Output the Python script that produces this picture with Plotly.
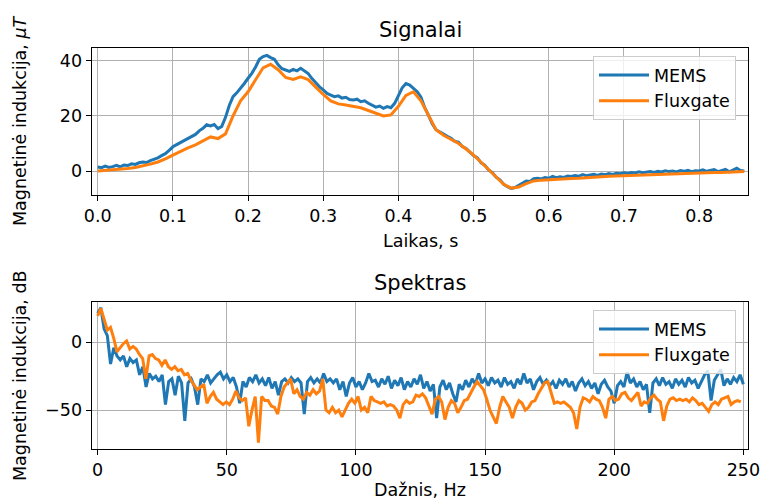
import numpy as np
import plotly.graph_objects as go

# ---------------- data ----------------
# time-domain signals (s, uT)
fluxgate_t = [
    0.0, 0.2, 0.4, 0.6, 0.9, 1.3, 1.8, 2.5, 3.3, 4.4,
    5.8, 7.2, 8.4, 9.5, 11.0, 12.4, 11.8, 13.5, 20.0, 25.5,
    28.8, 33.0, 37.5, 38.8, 36.8, 34.0, 33.3, 34.2, 33.2, 30.5,
    27.8, 25.5, 24.4, 24.0, 23.6, 23.0, 22.0, 21.0, 20.0, 20.4,
    23.5, 27.5, 28.8, 25.5, 20.0, 15.0, 13.0, 11.5, 10.0, 8.0,
    5.8, 3.2, 0.6, -2.0, -4.8, -6.2, -5.8, -4.6, -3.6, -3.3,
    -3.1, -3.0, -2.8, -2.7, -2.6, -2.5, -2.3, -2.1, -1.9, -1.8,
    -1.6, -1.4, -1.3, -1.2, -1.1, -1.0, -0.9, -0.9, -0.8, -0.7,
    -0.7, -0.6, -0.5, -0.5, -0.4, -0.3, -0.2,
]
mems_t = [
    1.5, 1.2, 1.8, 1.3, 1.6, 2.1, 1.5, 2.2, 2.0, 2.6,
    2.4, 3.0, 3.3, 3.1, 3.8, 4.3, 4.8, 5.6, 6.3, 7.5,
    8.8, 9.6, 10.3, 11.2, 11.8, 12.6, 13.3, 14.6, 15.5, 16.8,
    16.4, 16.9, 15.4, 16.2, 19.5, 23.8, 27.0, 28.4, 30.0, 31.8,
    33.7, 35.5, 37.8, 40.6, 41.6, 42.0, 41.2, 40.6, 38.6, 37.2,
    36.7, 36.2, 36.9, 36.4, 37.3, 36.5, 35.4, 33.6, 32.0, 30.6,
    29.5, 28.2, 27.6, 27.0, 27.3, 26.5, 26.8, 26.0, 25.8, 26.1,
    25.2, 25.5, 24.6, 24.0, 23.2, 23.6, 22.8, 23.4, 23.0, 24.6,
    27.4, 30.2, 31.8, 31.2, 30.0, 28.8, 26.8, 23.0, 20.2, 17.2,
    15.0, 14.3, 13.4, 12.6, 11.9, 10.8, 10.4, 8.9, 8.2, 6.9,
    5.6, 4.8, 3.0, 2.1, 0.4, -0.6, -2.2, -3.2, -4.8, -5.7,
    -6.3, -6.0, -5.2, -4.5, -3.6, -3.8, -2.8, -2.6, -2.9, -2.4,
    -2.6, -1.9, -2.4, -2.1, -2.3, -1.8, -2.0, -1.6, -1.9, -1.3,
    -1.7, -1.4, -1.2, -1.6, -1.1, -1.3, -0.9, -1.2, -0.8, -1.0,
    -0.6, -0.9, -0.5, -0.7, -0.3, -0.6, -0.4, -0.2, -0.5, -0.1,
    -0.3, 0.1, -0.2, 0.0, -0.3, 0.2, -0.1, 0.3, -0.2, 0.1,
    0.0, 0.4, -0.1, 0.3, 0.5, -0.2, 0.2, 0.6, -0.3, 0.4,
    1.0, 0.2, 0.0,
]
t_end = 0.86

# spectra (Hz, dB)
mems_db = [
    21.4, 25.5, 10, 5, -16, -4, -10, -13, -10, -18,
    -12, -15, -13, -24, -18, -33, -23, -27, -25, -29,
    -24, -46, -29, -27, -39, -25, -30, -58, -30, -27,
    -33, -46, -27, -29, -24, -30, -27, -24, -22, -27,
    -24, -29, -26, -33, -45, -29, -33, -26, -29, -24,
    -30, -27, -32, -26, -34, -29, -39, -29, -27, -30,
    -26, -29, -27, -30, -53, -29, -26, -30, -27, -30,
    -23, -29, -27, -30, -27, -35, -29, -40, -30, -26,
    -33, -29, -35, -30, -23, -29, -28, -33, -27, -31,
    -25, -34, -28, -32, -26, -35, -29, -33, -27, -31,
    -24, -34, -29, -36, -31, -56, -33, -28, -35, -30,
    -38, -44, -31, -35, -28, -33, -27, -31, -23, -30,
    -27, -32, -26, -30, -28, -33, -26, -31, -29, -34,
    -27, -31, -23, -30, -27, -35, -29, -26, -31, -28,
    -32, -29, -34, -28, -31, -27, -33, -29, -36, -30,
    -27, -32, -29, -34, -30, -38, -31, -28, -33, -36,
    -45, -32, -29, -33, -22, -30, -27, -33, -29, -35,
    -31, -52, -30, -27, -32, -26, -31, -29, -34, -27,
    -31, -28, -33, -26, -30, -28, -34, -29, -24, -21,
    -43, -28, -24, -20, -32, -27, -31, -26, -29, -24,
    -31,
]
fluxgate_db = [
    19.5, 25, 17, 9, 11, 3, -7, -4, -1, 1,
    -5, -3, -5, -9, -12, -27, -10, -9, -12, -13,
    -17, -13, -18, -20, -18, -21, -20, -24, -23, -28,
    -32, -35, -33, -31, -45, -40, -37, -42, -44, -46,
    -44, -46, -42, -36, -41, -43, -41, -62, -50, -40,
    -74, -40, -43, -43, -47, -48, -53, -40, -33, -30,
    -27, -38, -35, -40, -42, -37, -39, -35, -38, -36,
    -27, -50, -52, -48, -52, -50, -55, -50, -45, -42,
    -45, -40, -50, -48, -52, -40, -43, -44, -45, -44,
    -47, -46, -47, -50, -56, -46, -43, -45, -44, -39,
    -40, -38, -41, -47, -53, -42, -40, -44, -57, -48,
    -43, -45, -52, -48, -43, -42, -37, -33, -29, -32,
    -35, -42, -50, -55, -60, -48, -40, -44, -48, -56,
    -48, -43, -45, -50, -48, -44, -43, -38, -34, -30,
    -29, -38, -45, -44, -45, -44, -46, -48, -52, -64,
    -48, -41, -42, -44, -40, -42, -43, -48, -56, -42,
    -40, -43, -42, -38, -37, -41, -43, -40, -37, -47,
    -44, -45, -41, -39, -42, -44, -58, -47, -42, -41,
    -43, -42, -43, -42, -44, -41, -43, -46, -45, -48,
    -51, -46, -44, -46, -42, -41, -40, -46, -44, -43,
    -44,
]
f_end = 250.0
f_end_flux = 249.0

series_names = ["MEMS", "Fluxgate"]
colors = ["#1f77b4", "#ff7f0e"]

# ---------------- figure ----------------
FONT = "DejaVu Sans"
W, H = 762, 501
FS = 17.5

tm = np.linspace(0, t_end, len(mems_t))
tf = np.linspace(0, t_end, len(fluxgate_t))
fm = np.linspace(0, f_end, len(mems_db))
ff = np.linspace(0, f_end_flux, len(fluxgate_db))

fig = go.Figure()
fig.add_trace(go.Scatter(x=tm, y=mems_t, mode="lines", name=series_names[0],
                         line=dict(color=colors[0], width=3), xaxis="x", yaxis="y",
                         legend="legend"))
fig.add_trace(go.Scatter(x=tf, y=fluxgate_t, mode="lines", name=series_names[1],
                         line=dict(color=colors[1], width=3), xaxis="x", yaxis="y",
                         legend="legend"))
fig.add_trace(go.Scatter(x=fm, y=mems_db, mode="lines", name=series_names[0],
                         line=dict(color=colors[0], width=3), xaxis="x2", yaxis="y2",
                         legend="legend2"))
fig.add_trace(go.Scatter(x=ff, y=fluxgate_db, mode="lines", name=series_names[1],
                         line=dict(color=colors[1], width=3), xaxis="x2", yaxis="y2",
                         legend="legend2"))

x_dom = [91.7 / W, 748 / W]
y1_dom = [1 - 195 / H, 1 - 47.7 / H]
y2_dom = [1 - 449.3 / H, 1 - 301.7 / H]

axis_common = dict(
    showline=True, linecolor="black", linewidth=1.3, mirror=True,
    ticks="outside", ticklen=5, tickwidth=1.3, tickcolor="black",
    showgrid=True, gridcolor="#b0b0b0", gridwidth=1.2, automargin=False,
    zeroline=False, tickfont=dict(family=FONT, size=FS, color="black"),
)

legend_common = dict(
    xanchor="left", yanchor="top",
    bgcolor="rgba(255,255,255,0.8)", bordercolor="#cccccc", borderwidth=1,
    font=dict(family=FONT, size=FS, color="black"), itemwidth=50,
    tracegroupgap=0,
)

fig.update_layout(
    template="none",
    width=W, height=H, margin=dict(l=0, r=0, t=0, b=0, autoexpand=False),
    paper_bgcolor="white", plot_bgcolor="white",
    font=dict(family=FONT, size=FS, color="black"),
    xaxis=dict(domain=x_dom, anchor="y", range=[-0.008, 0.865],
               tickvals=[0, 0.1, 0.2, 0.3, 0.4, 0.5, 0.6, 0.7, 0.8],
               ticktext=["0.0", "0.1", "0.2", "0.3", "0.4", "0.5", "0.6", "0.7", "0.8"],
               **axis_common),
    yaxis=dict(domain=y1_dom, anchor="x", range=[-8.7, 44.8],
               tickvals=[0, 20, 40], **axis_common),
    xaxis2=dict(domain=x_dom, anchor="y2", range=[-2.3, 251.8],
                tickvals=[0, 50, 100, 150, 200, 250], **axis_common),
    yaxis2=dict(domain=y2_dom, anchor="x2", range=[-79, 30],
                tickvals=[-50, 0], **axis_common),
    legend=dict(x=593 / W, y=1 - 56 / H, **legend_common),
    legend2=dict(x=593 / W, y=1 - 310 / H, **legend_common),
)

ann = [
    dict(text="Signalai", x=420 / W, y=1 - 30 / H, size=21, angle=0),
    dict(text="Spektras", x=420 / W, y=1 - 283 / H, size=21, angle=0),
    dict(text="Laikas, s", x=420 / W, y=1 - 241 / H, size=FS, angle=0),
    dict(text="Dažnis, Hz", x=420 / W, y=1 - 490 / H, size=FS, angle=0),
    dict(text="Magnetinė indukcija, <i>μT</i>", x=20 / W, y=1 - 121 / H, size=FS, angle=-90),
    dict(text="Magnetinė indukcija, dB", x=20 / W, y=1 - 376 / H, size=FS, angle=-90),
]
for a in ann:
    fig.add_annotation(text=a["text"], x=a["x"], y=a["y"], xref="paper", yref="paper",
                       xanchor="center", yanchor="middle", showarrow=False,
                       textangle=a["angle"],
                       font=dict(family=FONT, size=a["size"], color="black"))

fig.write_html("out.html")
